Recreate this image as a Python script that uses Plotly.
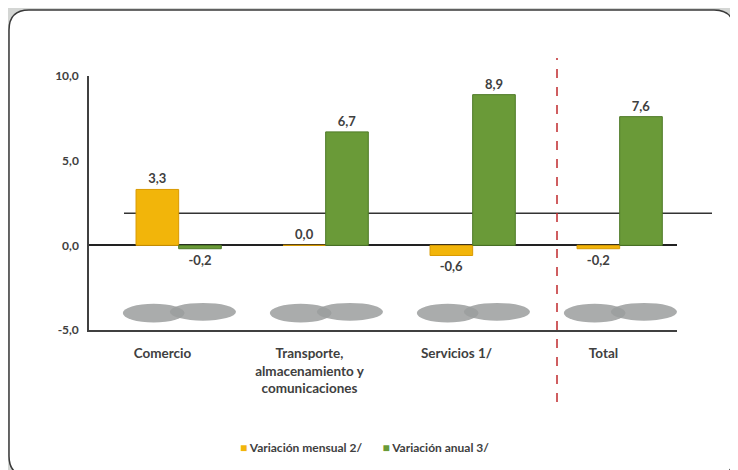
import plotly.graph_objects as go

categories = ["Comercio", "Transporte,<br>almacenamiento y<br>comunicaciones", "Servicios 1/", "Total"]
mensual = [3.3, 0.0, -0.6, -0.2]
anual = [-0.2, 6.7, 8.9, 7.6]
series_names = ["Variación mensual 2/", "Variación anual 3/"]
series_colors = ["#F2B50A", "#6A9A38"]
y_ticks = [-5, 0, 5, 10]
y_ticktext = ["-5,0", "0,0", "5,0", "10,0"]

def fmt(v):
    return f"{v:.1f}".replace(".", ",")

FONT = "Lato"
TXT = "#404040"
BAR_W = 0.29
SHIFT = 0.11  # 3D perspective pushes the cylinders slightly right

fig = go.Figure()
fig.add_trace(go.Bar(
    x=categories, y=mensual, name=series_names[0],
    width=BAR_W, offset=-BAR_W + SHIFT,
    marker=dict(color=series_colors[0], line=dict(color="#D99A00", width=1)),
    text=[fmt(v) for v in mensual], textposition="outside",
    textfont=dict(family=FONT, size=13, color=TXT, weight="bold"),
    cliponaxis=False,
))
fig.add_trace(go.Bar(
    x=categories, y=anual, name=series_names[1],
    width=BAR_W, offset=SHIFT,
    marker=dict(color=series_colors[1], line=dict(color="#4E7A26", width=1)),
    text=[fmt(v) for v in anual], textposition="outside",
    textfont=dict(family=FONT, size=13, color=TXT, weight="bold"),
    cliponaxis=False,
))

# page body has an 8px margin; compensate so positions match the reference frame
OFF = 8
W, H = 738 - OFF, 470 - OFF
L, T = 89 - OFF, 76 - OFF
R = W - (677 - OFF)
B = H - (330 - OFF)
pw, ph = W - L - R, H - T - B

def px(x):
    return (x - OFF - L) / pw

def py(y):
    return (H - B - (y - OFF)) / ph

shapes = []
# rounded white panel
x0, x1 = px(9), px(734)
y0, y1 = py(476), py(10)
rx, ry = 20 / pw, 20 / ph
path = (f"M {x0+rx},{y1} L {x1-rx},{y1} Q {x1},{y1} {x1},{y1-ry} "
        f"L {x1},{y0+ry} Q {x1},{y0} {x1-rx},{y0} L {x0+rx},{y0} "
        f"Q {x0},{y0} {x0},{y0+ry} L {x0},{y1-ry} Q {x0},{y1} {x0+rx},{y1} Z")
shapes.append(dict(type="path", path=path, xref="paper", yref="paper",
                   fillcolor="white", line=dict(color="#3a3a3a", width=1.5), layer="below"))
# shadows under each category
for i in range(len(categories)):
    shapes.append(dict(type="circle", xref="x", yref="y", x0=i - 0.27, x1=i + 0.15,
                       y0=-4.55, y1=-3.45, fillcolor="#9b9d9d", line=dict(width=0),
                       opacity=0.85, layer="below"))
    shapes.append(dict(type="circle", xref="x", yref="y", x0=i + 0.05, x1=i + 0.5,
                       y0=-4.45, y1=-3.4, fillcolor="#9b9d9d", line=dict(width=0),
                       opacity=0.85, layer="below"))
# back floor line (3D artifact)
shapes.append(dict(type="line", xref="paper", yref="y", x0=px(124), x1=px(712),
                   y0=1.9, y1=1.9, line=dict(color="#333333", width=1.5), layer="below"))
# red dashed divider
shapes.append(dict(type="line", xref="paper", yref="paper", x0=px(557), x1=px(557),
                   y0=py(402), y1=py(58), line=dict(color="#C0282D", width=1.5, dash="dash")))

legend_text = (f"<span style='color:{series_colors[0]}'>■</span> {series_names[0]}"
               f"       <span style='color:{series_colors[1]}'>■</span> {series_names[1]}")
annotations = [dict(text=legend_text, xref="paper", yref="paper", x=px(364), y=py(447),
                    xanchor="center", yanchor="middle", showarrow=False,
                    font=dict(family=FONT, size=12, color=TXT, weight="bold"))]

fig.update_layout(
    width=W, height=H,
    margin=dict(l=L, r=R, t=T, b=B, autoexpand=False),
    paper_bgcolor="#D4D6D4",
    plot_bgcolor="rgba(0,0,0,0)",
    barmode="group",
    font=dict(family=FONT, size=12, color=TXT, weight="bold"),
    shapes=shapes,
    annotations=annotations,
    showlegend=False,
)
fig.update_yaxes(range=[-5, 10], tickvals=y_ticks, ticktext=y_ticktext,
                 showgrid=False, showline=True, linecolor="#404040", linewidth=1.5,
                 zeroline=True, zerolinecolor="#222222", zerolinewidth=1.5,
                 ticks="", tickfont=dict(size=12), ticklabelstandoff=6, automargin=False)
fig.update_xaxes(showline=True, linecolor="#404040", linewidth=1.5, showgrid=False,
                 ticks="", tickfont=dict(size=13.5), ticklabelstandoff=10, automargin=False)

fig.write_html("out.html")
